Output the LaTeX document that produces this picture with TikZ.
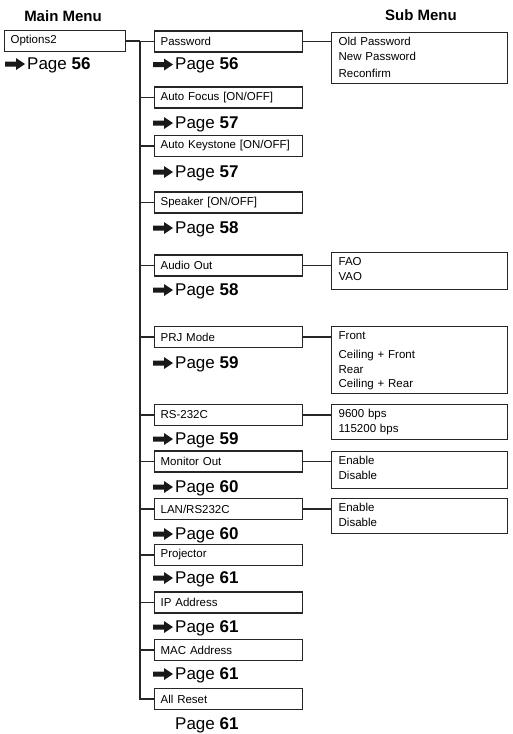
\documentclass[tikz,border=0pt]{standalone}
\usepackage{fontspec}
\setmainfont{Liberation Sans}
\tikzset{
  box/.style={draw=black!85,line width=1.3pt,anchor=west,minimum width=148pt,
    minimum height=21pt,text width=136pt,align=left,inner xsep=6pt,inner ysep=0pt,
    font=\fontsize{11.5}{12}\selectfont},
  subbox/.style={draw=black!85,line width=1.3pt,anchor=north west,text width=162pt,
    align=left,inner xsep=7pt,inner ysep=3pt,text height=10pt,
    font=\fontsize{11.5}{14.5}\selectfont},
  pg/.style={anchor=base west,inner sep=0pt,font=\fontsize{17}{17}\selectfont},
  title/.style={anchor=base,inner sep=0pt,font=\fontsize{15}{15}\selectfont\bfseries},
  pagearrow/.pic={
    \fill[black!90] (-22,-7.5) -- (-11,-7.5) -- (-11,-11) -- (-2,-5)
      -- (-11,1) -- (-11,-2.5) -- (-22,-2.5) -- cycle;
  }
}
\begin{document}
\begin{tikzpicture}[x=1pt,y=-1pt]
  \useasboundingbox (0,0) rectangle (512,734);
  \node[title] (main) at (63,21) {Main Menu};
  \node[title] (sub) at (421,20) {Sub Menu};
  % main menu
  \node[box,minimum width=121pt,text width=109pt] (0) at (4,41) {Options2};
  \node[pg] (p0) at (27,69) {Page \textbf{56}};
  % menu items
  \path
    (154,41.5) node[box] (1) {Password}
    (154,97.5) node[box] (2) {Auto Focus [ON/OFF]}
    (154,146) node[box] (3) {Auto Keystone [ON/OFF]}
    (154,202.5) node[box] (4) {Speaker [ON/OFF]}
    (154,265.5) node[box] (5) {Audio Out}
    (154,337) node[box] (6) {PRJ Mode}
    (154,415) node[box] (7) {RS-232C}
    (154,461.5) node[box] (8) {Monitor Out}
    (154,509) node[box] (9) {LAN/RS232C}
    (154,555) node[box] (10) {Projector}
    (154,602.5) node[box] (11) {IP Address}
    (154,650) node[box] (12) {MAC Address}
    (154,699) node[box] (13) {All Reset};
  \path
    (175,69.5) node[pg] (p1) {Page \textbf{56}}
    (175,128) node[pg] (p2) {Page \textbf{57}}
    (175,177) node[pg] (p3) {Page \textbf{57}}
    (175,233) node[pg] (p4) {Page \textbf{58}}
    (175,295) node[pg] (p5) {Page \textbf{58}}
    (175,368) node[pg] (p6) {Page \textbf{59}}
    (175,444) node[pg] (p7) {Page \textbf{59}}
    (175,492) node[pg] (p8) {Page \textbf{60}}
    (175,539) node[pg] (p9) {Page \textbf{60}}
    (175,583) node[pg] (p10) {Page \textbf{61}}
    (175,632) node[pg] (p11) {Page \textbf{61}}
    (175,679) node[pg] (p12) {Page \textbf{61}}
    (175,729) node[pg] (p13) {Page \textbf{61}};
  \pic at (p0.base west) {pagearrow};
  \pic at (p1.base west) {pagearrow};
  \pic at (p2.base west) {pagearrow};
  \pic at (p3.base west) {pagearrow};
  \pic at (p4.base west) {pagearrow};
  \pic at (p5.base west) {pagearrow};
  \pic at (p6.base west) {pagearrow};
  \pic at (p7.base west) {pagearrow};
  \pic at (p8.base west) {pagearrow};
  \pic at (p9.base west) {pagearrow};
  \pic at (p10.base west) {pagearrow};
  \pic at (p11.base west) {pagearrow};
  \pic at (p12.base west) {pagearrow};
  % sub menus
  \path
    (331,32) node[subbox,text depth=35pt] (s1)
      {Old Password\\New Password\\[2.5pt]Reconfirm}
    (331,252) node[subbox,text depth=21pt] (s5) {FAO\\VAO}
    (331,326) node[subbox,text depth=51pt] (s6)
      {Front\\[4.5pt]Ceiling + Front\\Rear\\Ceiling + Rear}
    (331,404) node[subbox,text depth=19pt] (s7) {9600 bps\\115200 bps}
    (331,451) node[subbox,text depth=21pt] (s8) {Enable\\Disable}
    (331,498) node[subbox,text depth=19pt] (s9) {Enable\\Disable};
  \coordinate (t) at (140,41);
  \begin{scope}[draw=black!85,line width=1.3pt]
    \draw (0.east) -- (t);
    \draw (t) |- (13.west);
    \draw (t) |- (1.west);
    \draw (t |- 2.west) -- (2.west);
    \draw (t |- 3.west) -- (3.west);
    \draw (t |- 4.west) -- (4.west);
    \draw (t |- 5.west) -- (5.west);
    \draw (t |- 6.west) -- (6.west);
    \draw (t |- 7.west) -- (7.west);
    \draw (t |- 8.west) -- (8.west);
    \draw (t |- 9.west) -- (9.west);
    \draw (t |- 10.west) -- (10.west);
    \draw (t |- 11.west) -- (11.west);
    \draw (t |- 12.west) -- (12.west);
    \draw (1.east) -- (1.east -| s1.west);
    \draw (5.east) -- (5.east -| s5.west);
    \draw (6.east) -- (6.east -| s6.west);
    \draw (7.east) -- (7.east -| s7.west);
    \draw (8.east) -- (8.east -| s8.west);
    \draw (9.east) -- (9.east -| s9.west);
  \end{scope}
\end{tikzpicture}
\end{document}
